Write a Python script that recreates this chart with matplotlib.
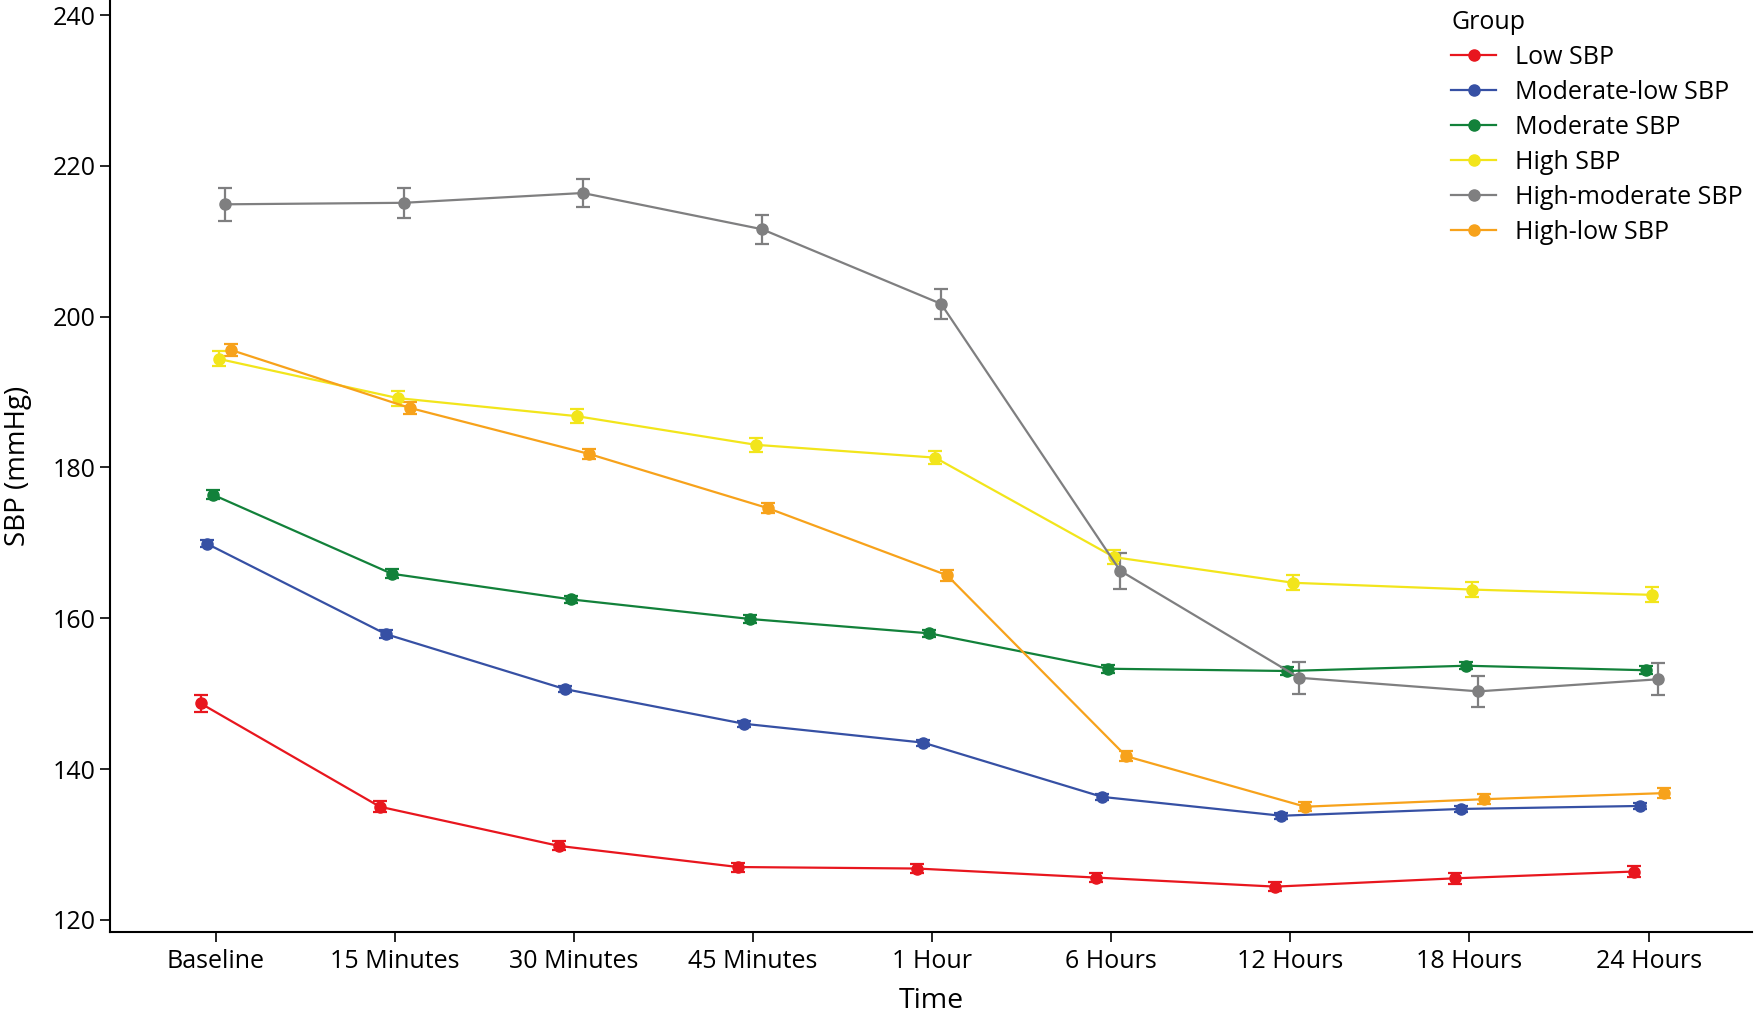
import numpy as np
import matplotlib
matplotlib.use("Agg")
import matplotlib.pyplot as plt
from matplotlib.lines import Line2D

plt.rcParams['font.family'] = ['Open Sans', 'DejaVu Sans']

# time points
times = ["Baseline", "15 Minutes", "30 Minutes", "45 Minutes", "1 Hour",
         "6 Hours", "12 Hours", "18 Hours", "24 Hours"]

groups = ["Low SBP", "Moderate-low SBP", "Moderate SBP", "High SBP",
          "High-moderate SBP", "High-low SBP"]
colors = ["#E8161E", "#3650A4", "#12813A", "#F2E51B", "#7F7F80", "#F7A21B"]

# mean SBP per group (mmHg)
low_sbp = [148.7, 135.0, 129.8, 127.0, 126.8, 125.6, 124.4, 125.5, 126.4]
modlow_sbp = [169.9, 157.9, 150.6, 146.0, 143.5, 136.3, 133.8, 134.7, 135.1]
mod_sbp = [176.4, 165.9, 162.5, 159.9, 158.0, 153.3, 153.0, 153.7, 153.1]
high_sbp = [194.4, 189.2, 186.8, 183.0, 181.3, 168.1, 164.7, 163.8, 163.1]
highmod_sbp = [214.9, 215.1, 216.4, 211.6, 201.7, 166.3, 152.1, 150.3, 151.9]
highlow_sbp = [195.6, 187.9, 181.8, 174.6, 165.7, 141.7, 135.0, 136.0, 136.8]

# standard errors
low_se = [1.1, 0.7, 0.6, 0.6, 0.6, 0.6, 0.6, 0.7, 0.7]
modlow_se = [0.5, 0.5, 0.4, 0.4, 0.4, 0.4, 0.4, 0.4, 0.4]
mod_se = [0.6, 0.6, 0.5, 0.5, 0.5, 0.5, 0.5, 0.5, 0.5]
high_se = [1.0, 1.0, 0.9, 0.9, 0.9, 0.9, 1.0, 1.0, 1.0]
highmod_se = [2.2, 2.0, 1.8, 1.9, 2.0, 2.4, 2.1, 2.1, 2.1]
highlow_se = [0.8, 0.8, 0.7, 0.7, 0.7, 0.7, 0.6, 0.7, 0.7]

means = [low_sbp, modlow_sbp, mod_sbp, high_sbp, highmod_sbp, highlow_sbp]
ses = [low_se, modlow_se, mod_se, high_se, highmod_se, highlow_se]

fig = plt.figure(figsize=(17.56, 10.14), dpi=100)
ax = fig.add_axes([0.0626, 0.081, 0.9354, 0.919])

x = np.arange(len(times))
dodge = 0.2
n = len(groups)
for i, (g, c, m, s) in enumerate(zip(groups, colors, means, ses)):
    off = -dodge / 2 + dodge * (i + 0.5) / n
    ax.errorbar(x + off, m, yerr=s, color=c, marker='o', markersize=8,
                linewidth=1.6, elinewidth=1.6, capsize=5, capthick=1.6,
                label=g)

ax.set_xlim(-0.59, 8.58)
ax.set_ylim(118.4, 242)
ax.set_xticks(x)
ax.set_xticklabels(times)
ax.set_yticks([120, 140, 160, 180, 200, 220, 240])
ax.tick_params(labelsize=18, length=7, width=1.2, direction='out')
ax.tick_params(axis='x', pad=5)
ax.spines['top'].set_visible(False)
ax.spines['right'].set_visible(False)
ax.spines['left'].set_linewidth(1.5)
ax.spines['bottom'].set_linewidth(1.5)
ax.set_xlabel("Time", fontsize=20.5, labelpad=10)
ax.set_ylabel("SBP (mmHg)", fontsize=20, labelpad=15)

# legend handles without error bars
handles = [Line2D([0], [0], color=c, marker='o', markersize=8, linewidth=1.6)
           for c in colors]
leg = ax.legend(handles, groups, title="Group", loc='upper right',
                bbox_to_anchor=(1.0, 1.0), frameon=False, fontsize=18,
                title_fontsize=18, handlelength=1.8, handletextpad=0.75,
                labelspacing=0.4, borderaxespad=0.0)
leg._legend_box.align = "left"

fig.savefig("out.png", dpi=100)
